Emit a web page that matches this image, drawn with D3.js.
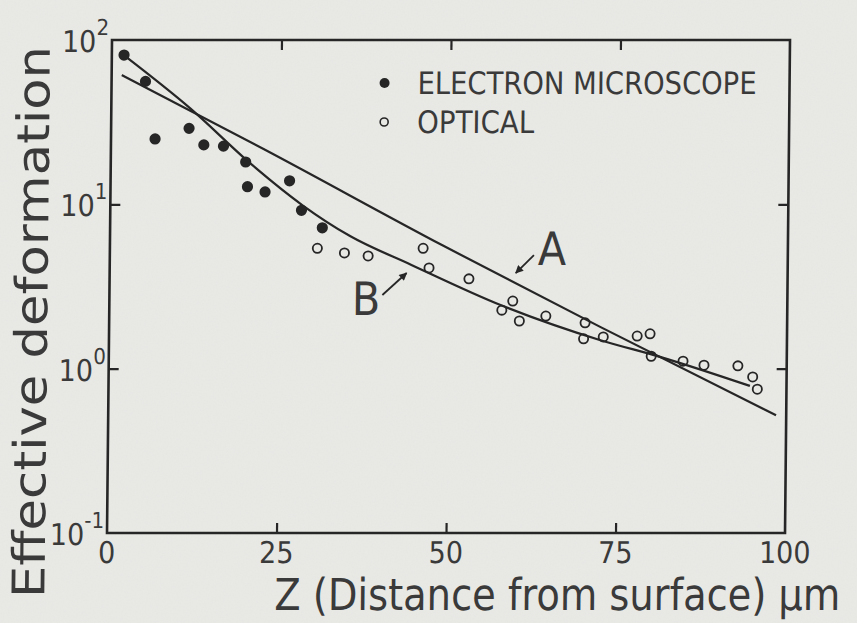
<!DOCTYPE html>
<html>
<head>
<meta charset="utf-8">
<script src="https://cdn.jsdelivr.net/npm/d3@7"></script>
<style>
  body { margin: 0; background: #e9e9e6; }
  svg { display: block; }
  text { font-family: "DejaVu Sans Condensed", "DejaVu Sans", sans-serif; font-stretch: condensed; fill: #3a3a3a; }
</style>
</head>
<body>
<svg id="chart" width="857" height="623"></svg>
<script>
// Electron-microscope measurements (filled dots): depth Z (µm) and effective deformation
const electronZ   = [1.8, 5.0, 6.5, 11.5, 13.7, 16.6, 19.9, 20.2, 22.8, 26.4, 28.2, 31.3];
const electronDef = [81, 56, 25, 29, 23, 22.6, 18.1, 12.8, 11.9, 13.9, 9.2, 7.2];

// Optical measurements (open circles)
const opticalZ   = [30.6, 34.6, 38.1, 46.2, 47.1, 53.0, 57.9, 59.5, 60.5, 64.4, 70.0,
                    70.2, 72.9, 77.9, 79.8, 80.0, 84.7, 87.8, 92.8, 95.0, 95.7];
const opticalDef = [5.4, 5.06, 4.85, 5.4, 4.1, 3.52, 2.27, 2.58, 1.95, 2.09, 1.52,
                    1.90, 1.56, 1.58, 1.63, 1.19, 1.11, 1.05, 1.04, 0.89, 0.75];

// Curve A (nearly straight on the log scale)
const curveAZ   = [1.5, 22.8, 48.9, 72.5, 98.5];
const curveADef = [61.2, 21.4, 5.67, 1.79, 0.52];

// Curve B
const curveBZ   = [2.1, 11.6, 20.9, 28.3, 35.4, 44.5, 57.7, 72.5, 81.3, 94.6];
const curveBDef = [78.9, 38.5, 17.3, 9.9, 6.41, 4.28, 2.44, 1.49, 1.18, 0.785];

// Axis ticks
const zTicks = [0, 25, 50, 75, 100];
const decadeTicks = [0.1, 1, 10, 100];
const decadeExp = ["-1", "0", "1", "2"];

// Curve labels: arrow tip on the data scale
const curveLabels = [
  { name: "A", z: 59.9, def: 3.82, tail: [18, -18], text: [22, -8], anchor: "start" },
  { name: "B", z: 43.8, def: 3.82, tail: [-24, 22], text: [-26, 42], anchor: "end" }
];

const legendItems = [
  { label: "ELECTRON MICROSCOPE", filled: true },
  { label: "OPTICAL", filled: false }
];

const ink = "#262626";
const L = 112, R = 790, T = 40, B = 533;

const svg = d3.select("#chart");

// faint paper grain
const defs = svg.append("defs");
const grain = defs.append("filter").attr("id", "grain").attr("x", 0).attr("y", 0).attr("width", 1).attr("height", 1);
grain.append("feTurbulence").attr("type", "fractalNoise").attr("baseFrequency", 0.6).attr("numOctaves", 2).attr("seed", 4);
grain.append("feColorMatrix").attr("values", "0 0 0 0 0.5  0 0 0 0 0.5  0 0 0 0 0.5  0 0 0 0.06 0");
svg.append("rect").attr("width", 857).attr("height", 623).attr("fill", "#e9e9e6");
svg.append("rect").attr("width", 857).attr("height", 623).attr("filter", "url(#grain)");

// the whole figure leans slightly
const g = svg.append("g").attr("transform", `translate(0,${T}) skewX(-0.58) translate(0,${-T})`);

const x = d3.scaleLinear().domain([0, 100]).range([L, R]);
const y = d3.scaleLog().domain([0.1, 100]).range([B, T]);

// frame
g.append("rect").attr("x", L).attr("y", T).attr("width", R - L).attr("height", B - T)
  .attr("fill", "none").attr("stroke", ink).attr("stroke-width", 2.6);

function styleAxis(sel) {
  sel.select(".domain").remove();
  sel.selectAll(".tick line").attr("stroke", ink).attr("stroke-width", 2.2);
  sel.selectAll(".tick text").remove();
}
const innerZ = zTicks.filter(v => v > 0 && v < 100);
const innerD = decadeTicks.filter(v => v > 0.1 && v < 100);

g.append("g").attr("transform", `translate(0,${B})`)
  .call(d3.axisBottom(x).tickValues(innerZ).tickSize(-10)).call(styleAxis);
g.append("g").attr("transform", `translate(0,${T})`)
  .call(d3.axisTop(x).tickValues(innerZ).tickSize(-10)).call(styleAxis);
g.append("g").attr("transform", `translate(${L},0)`)
  .call(d3.axisLeft(y).tickValues(innerD).tickSize(-10)).call(styleAxis);
g.append("g").attr("transform", `translate(${R},0)`)
  .call(d3.axisRight(y).tickValues(innerD).tickSize(-10)).call(styleAxis);

// x tick labels
g.append("g").selectAll("text").data(zTicks).join("text")
  .attr("x", d => x(d)).attr("y", B + 30)
  .attr("text-anchor", "middle").attr("font-size", 30)
  .text(d => d);

// y tick labels as powers of ten
const yl = g.append("g").selectAll("text").data(decadeTicks).join("text")
  .attr("x", L - 3).attr("y", d => y(d) + 12)
  .attr("text-anchor", "end").attr("font-size", 30);
yl.append("tspan").text("10");
yl.append("tspan").attr("dy", -17).attr("font-size", 22).text((d, i) => decadeExp[i]);

// axis titles
g.append("text").attr("transform", "translate(50,322) rotate(-90)")
  .attr("text-anchor", "middle").attr("font-size", 45)
  .attr("textLength", 552).attr("lengthAdjust", "spacingAndGlyphs")
  .text("Effective deformation");
g.append("text").attr("x", 280).attr("y", 610).attr("font-size", 44)
  .attr("textLength", 566).attr("lengthAdjust", "spacingAndGlyphs")
  .text("Z (Distance from surface) µm");

// fitted curves
const line = d3.line().x(d => x(d[0])).y(d => y(d[1])).curve(d3.curveMonotoneX);
g.append("path").datum(d3.zip(curveAZ, curveADef)).attr("d", line)
  .attr("fill", "none").attr("stroke", ink).attr("stroke-width", 2.2);
g.append("path").datum(d3.zip(curveBZ, curveBDef)).attr("d", line)
  .attr("fill", "none").attr("stroke", ink).attr("stroke-width", 2.2);

// measurements
g.append("g").selectAll("circle").data(d3.zip(electronZ, electronDef)).join("circle")
  .attr("cx", d => x(d[0])).attr("cy", d => y(d[1])).attr("r", 5.6).attr("fill", ink);
g.append("g").selectAll("circle").data(d3.zip(opticalZ, opticalDef)).join("circle")
  .attr("cx", d => x(d[0])).attr("cy", d => y(d[1])).attr("r", 4.6)
  .attr("fill", "none").attr("stroke", ink).attr("stroke-width", 1.8);

// curve labels with arrows
defs.append("marker").attr("id", "arrow").attr("viewBox", "0 0 10 10")
  .attr("refX", 9).attr("refY", 5).attr("markerWidth", 10).attr("markerHeight", 8)
  .attr("markerUnits", "userSpaceOnUse").attr("orient", "auto")
  .append("path").attr("d", "M0,0 L10,5 L0,10 Z").attr("fill", ink);
curveLabels.forEach(c => {
  const tx = x(c.z), ty = y(c.def);
  g.append("line").attr("x1", tx + c.tail[0]).attr("y1", ty + c.tail[1])
    .attr("x2", tx).attr("y2", ty).attr("stroke", ink).attr("stroke-width", 1.8)
    .attr("marker-end", "url(#arrow)");
  g.append("text").attr("x", tx + c.text[0]).attr("y", ty + c.text[1])
    .attr("text-anchor", c.anchor).attr("font-size", 46).text(c.name);
});

// legend
const lg = g.append("g").attr("transform", "translate(385,83)");
legendItems.forEach((it, i) => {
  const row = lg.append("g").attr("transform", `translate(0,${i * 39})`);
  row.append("circle").attr("r", it.filled ? 5 : 4)
    .attr("fill", it.filled ? ink : "none").attr("stroke", ink).attr("stroke-width", it.filled ? 0 : 1.6);
  row.append("text").attr("x", 33).attr("y", 11).attr("font-size", 31)
    .attr("textLength", it.filled ? 339 : 117).attr("lengthAdjust", "spacingAndGlyphs")
    .text(it.label);
});
</script>
</body>
</html>
